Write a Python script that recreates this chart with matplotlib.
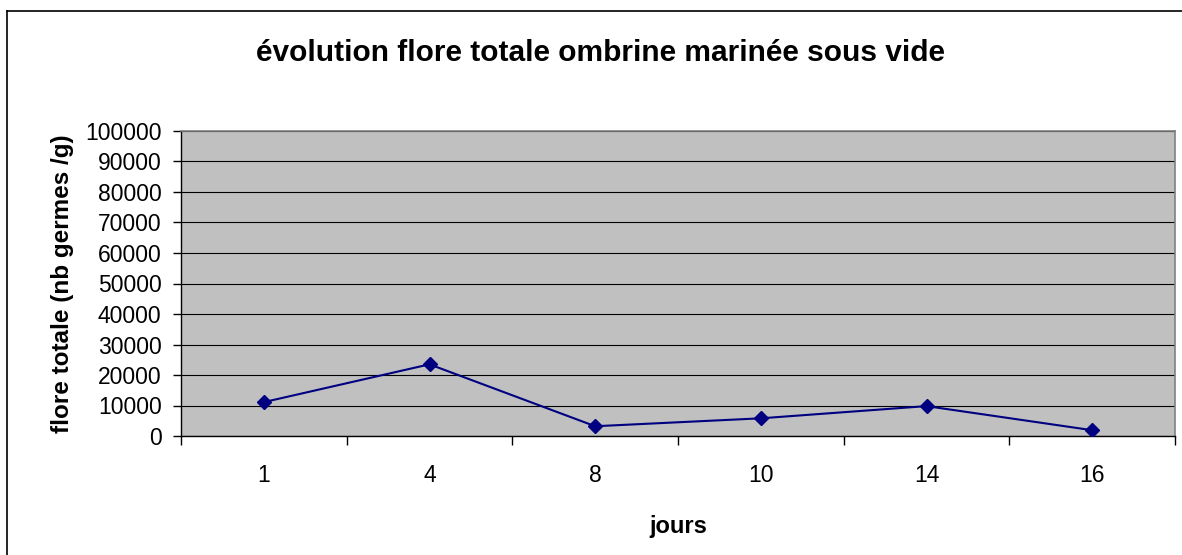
"""Total flora evolution of vacuum-marinated ombrine."""

import matplotlib.pyplot as plt
from matplotlib.lines import Line2D

days = ["1", "4", "8", "10", "14", "16"]
flora_total = [11100, 23500, 3200, 5800, 9800, 1900]
y_ticks = list(range(0, 100001, 10000))

plt.rcParams["font.family"] = ["Liberation Sans", "DejaVu Sans"]

W, H = 1182, 555
fig = plt.figure(figsize=(W / 100, H / 100), dpi=100)
ax = fig.add_axes([181 / W, 1 - 436 / H, (1175 - 181) / W, (436 - 131) / H])

x = list(range(len(days)))
ax.plot(x, flora_total, color="#000080", linewidth=1.5, marker="D",
        markersize=7.5, markerfacecolor="#000080", markeredgecolor="#000080", zorder=3)

ax.set_facecolor("#C0C0C0")
ax.set_xlim(-0.5, len(days) - 0.5)
ax.set_ylim(0, 100000)
ax.set_yticks(y_ticks)
ax.set_yticklabels([str(v) for v in y_ticks], fontsize=16.5)
ax.yaxis.grid(True, color="black", linewidth=0.8)
ax.set_axisbelow(True)

# category labels sit between the boundary ticks
ax.set_xticks([i - 0.5 for i in range(len(days) + 1)])
ax.set_xticklabels([])
ax.set_xticks(x, minor=True)
ax.set_xticklabels(days, minor=True, fontsize=16.5)
ax.tick_params(axis="x", which="minor", length=0, pad=20)
ax.tick_params(axis="x", which="major", length=6.5, width=1, direction="out")
ax.tick_params(axis="y", length=6, width=1, direction="out", pad=8)

for side in ("top", "right"):
    ax.spines[side].set_color("#808080")
    ax.spines[side].set_linewidth(1.2)
for side in ("left", "bottom"):
    ax.spines[side].set_color("black")
    ax.spines[side].set_linewidth(1)

ax.set_xlabel("jours", fontsize=17, fontweight="bold", labelpad=20)
ax.set_ylabel("flore totale (nb germes /g)", fontsize=17.5, fontweight="bold", labelpad=8)
fig.text(600 / W, 1 - 61 / H, "évolution flore totale ombrine marinée sous vide",
         ha="center", va="baseline", fontsize=21.5, fontweight="bold")

# chart frame
fig.add_artist(Line2D([7 / W, 1.0], [1 - 11 / H] * 2, color="black", linewidth=1.2,
                      transform=fig.transFigure))
fig.add_artist(Line2D([7 / W] * 2, [0.0, 1 - 11 / H], color="black", linewidth=1.2,
                      transform=fig.transFigure))

fig.savefig("out.png", dpi=100)
